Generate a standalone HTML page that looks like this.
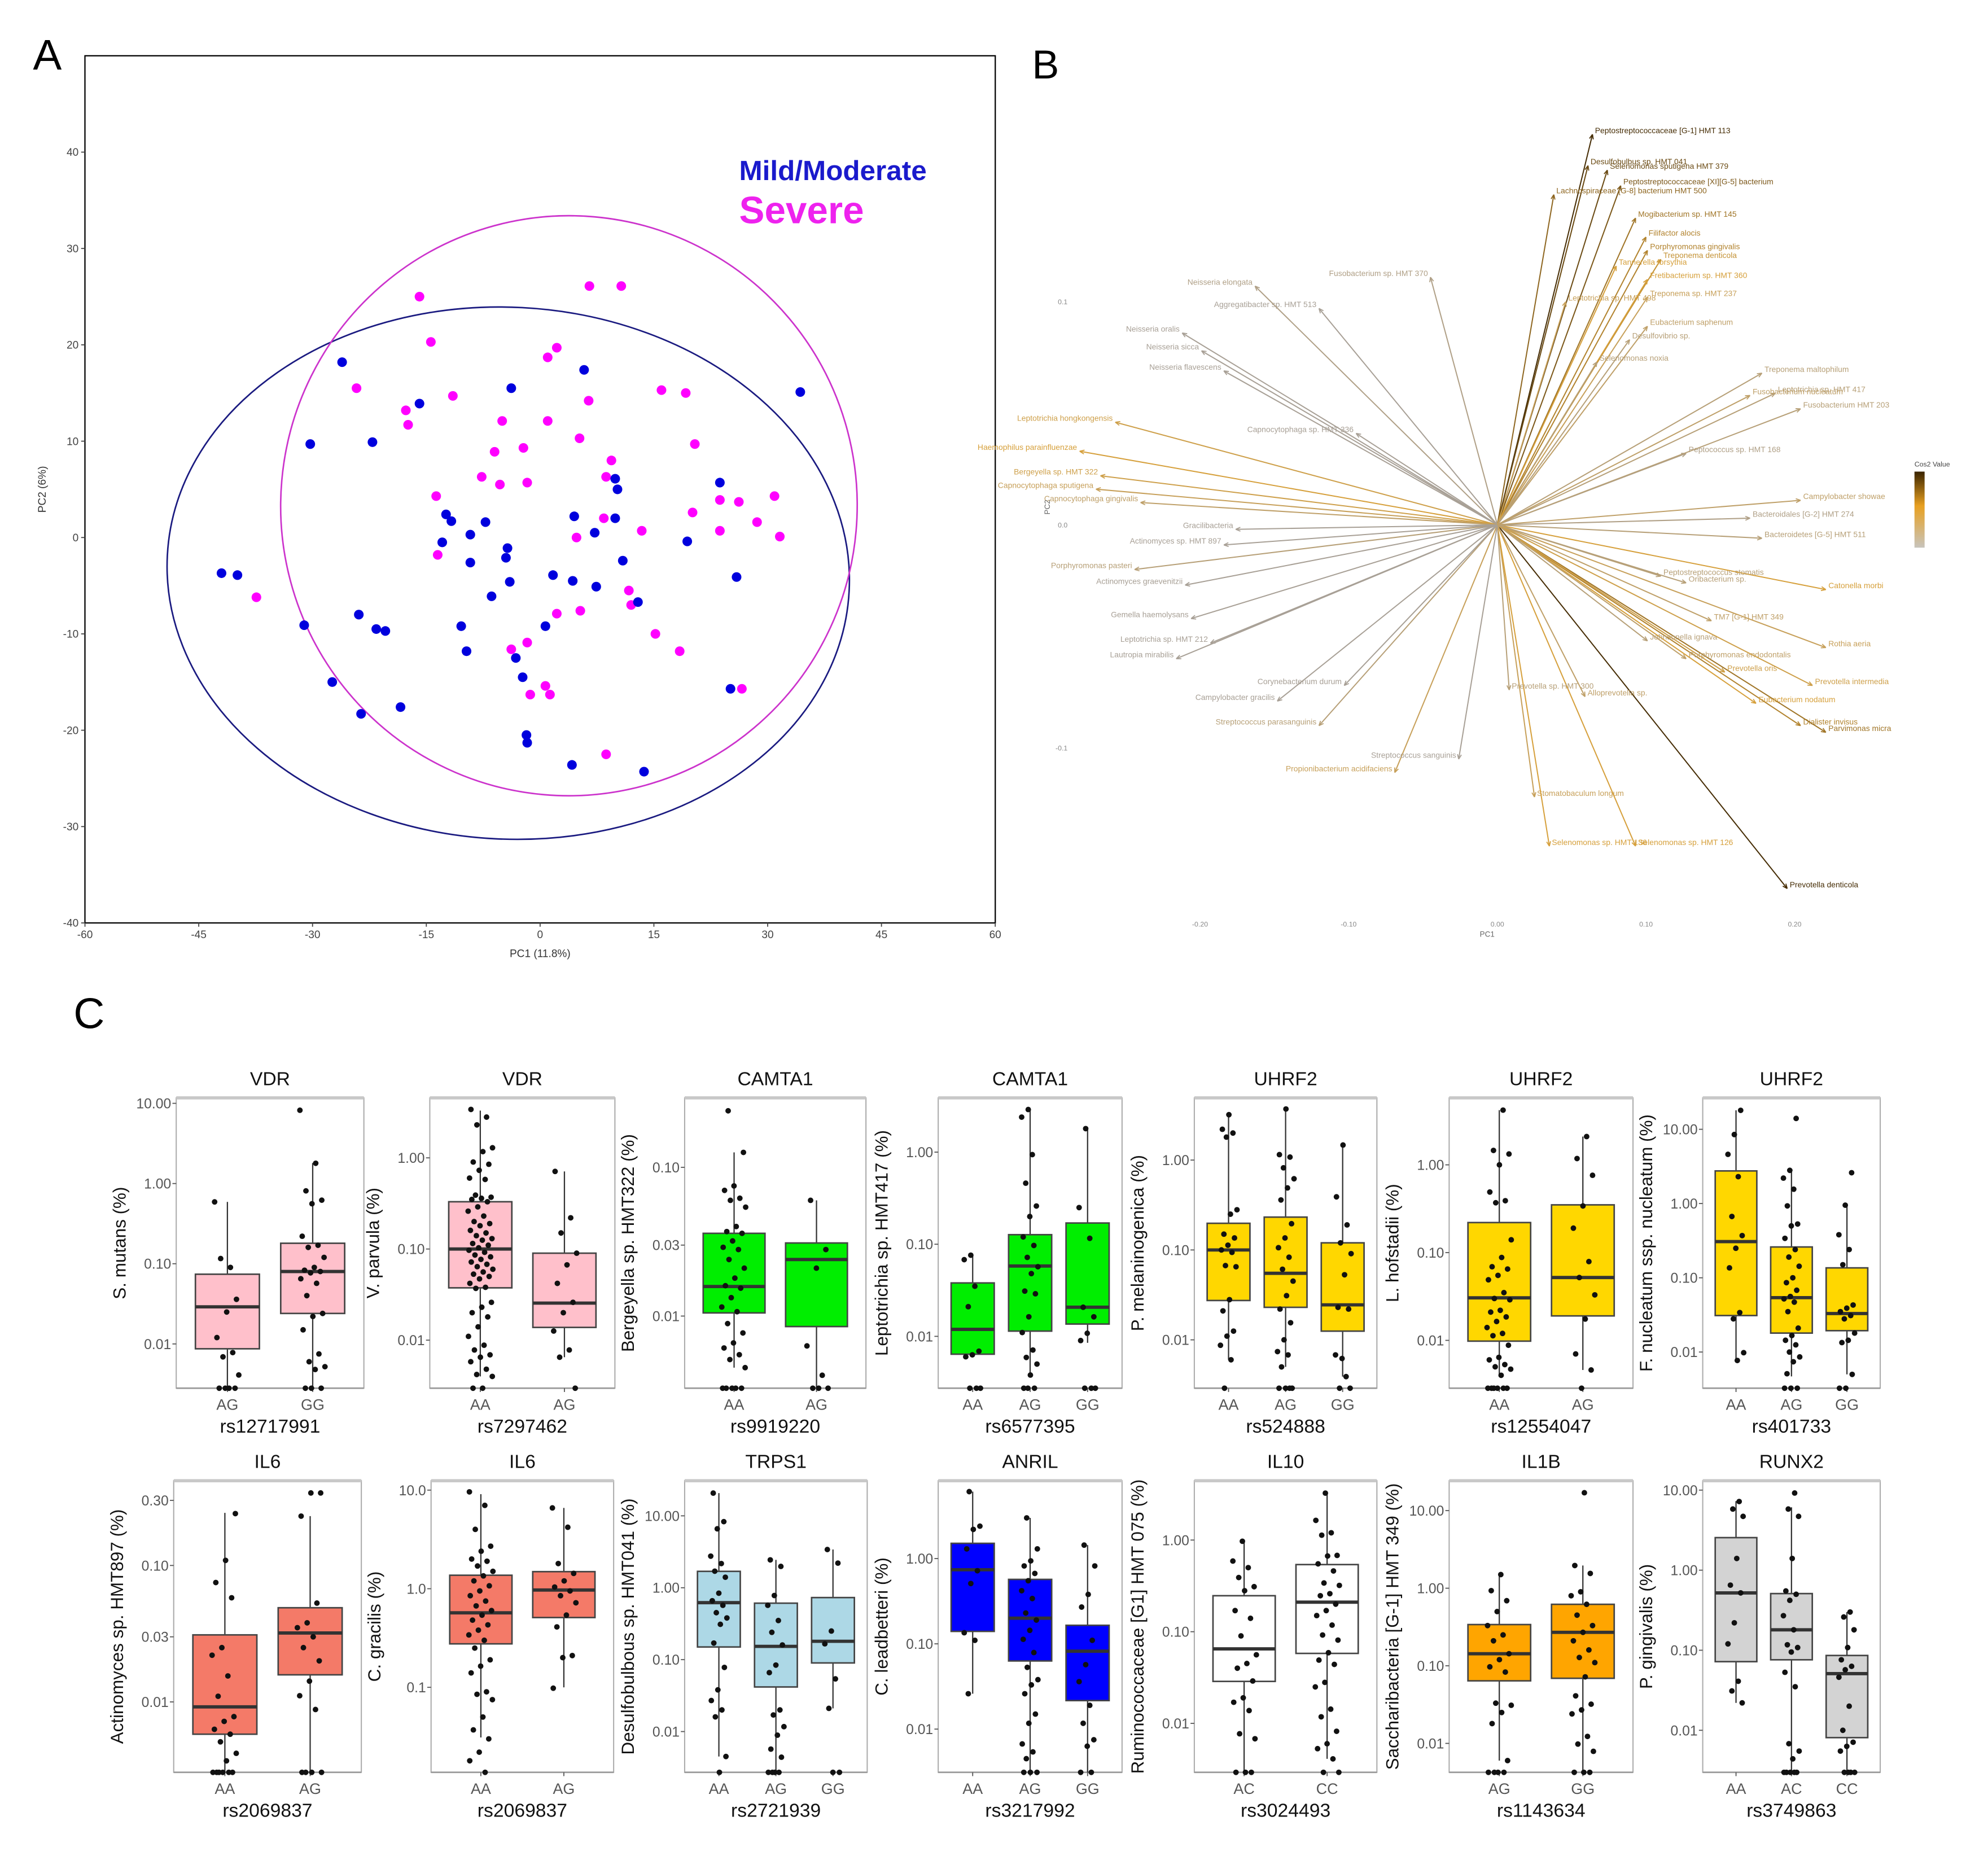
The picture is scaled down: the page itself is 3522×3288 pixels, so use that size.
<!DOCTYPE html>
<html><head><meta charset="utf-8"><style>
html,body{margin:0;padding:0;background:#fff;}
svg{display:block;font-family:"Liberation Sans",sans-serif;}
</style></head><body>
<svg id="fig" xmlns="http://www.w3.org/2000/svg" width="3522" height="3288" viewBox="0 0 1568 1464" preserveAspectRatio="none">
<rect x="0" y="0" width="1568" height="1464" fill="#fff"/>
<text x="26" y="55" font-size="34" fill="#000">A</text>
<text x="814" y="62" font-size="32" fill="#000">B</text>
<text x="58" y="811" font-size="34" fill="#000">C</text>
</svg>
<script>
// ---------- Panel A data ----------
const blueX=[34.3,-26.1,-30.3,-22.1,-3.8,5.8,-42.0,-39.9,-31.1,-27.4,-23.9,-21.6,-20.4,-23.6,-18.4,-15.9,-12.4,-12.9,-9.2,-9.2,-6.4,-4.5,-4.3,-4.0,-10.4,-9.7,-3.2,-2.3,-1.8,-1.7,0.7,1.7,4.3,4.5,7.2,9.9,10.2,9.9,10.9,12.9,19.4,23.7,25.9,25.1,4.2,13.7,7.4,-7.2,-11.7];
const blueY=[15.1,18.2,9.7,9.9,15.5,17.4,-3.7,-3.9,-9.1,-15.0,-8.0,-9.5,-9.7,-18.3,-17.6,13.9,2.4,-0.5,0.3,-2.6,-6.1,-2.1,-1.1,-4.6,-9.2,-11.8,-12.5,-14.5,-20.5,-21.3,-9.2,-3.9,-4.5,2.2,0.5,6.1,5.0,2.0,-2.4,-6.7,-0.4,5.7,-4.1,-15.7,-23.6,-24.3,-5.1,1.6,1.7];
const magX=[-15.9,6.5,10.7,-14.4,-24.2,-17.7,-17.4,-11.5,2.2,1.0,6.4,-5.0,1.0,-6.0,-2.2,5.2,9.4,8.7,16.0,19.2,20.4,-7.7,-5.3,-1.7,-13.7,-13.5,23.7,26.2,30.9,28.6,31.6,23.7,20.1,13.4,8.4,4.8,11.7,12.0,5.3,2.2,-1.7,-3.8,0.7,1.3,-1.3,15.2,18.4,26.6,8.7,-37.4];
const magY=[25.0,26.1,26.1,20.3,15.5,13.2,11.7,14.7,19.7,18.7,14.2,12.1,12.1,8.9,9.3,10.3,8.0,6.3,15.3,15.0,9.7,6.3,5.5,5.7,4.3,-1.8,3.9,3.7,4.3,1.6,0.1,0.7,2.6,0.7,2.0,0.0,-5.5,-7.0,-7.6,-7.9,-10.9,-11.6,-15.4,-16.3,-16.3,-10.0,-11.8,-15.7,-22.5,-6.2];
const aTicksX=[-60,-45,-30,-15,0,15,30,45,60];
const aTicksY=[-40,-30,-20,-10,0,10,20,30,40];
const blueEllipse=[-4.2,-3.7,45,27.6];
const magEllipse=[3.8,3.3,38,30.1];

// ---------- Panel B data ----------
const bLabels=["Peptostreptococcaceae [G-1] HMT 113","Desulfobulbus sp. HMT 041","Selenomonas sputigena HMT 379","Peptostreptococcaceae [XI][G-5] bacterium","Lachnospiraceae [G-8] bacterium HMT 500","Mogibacterium sp. HMT 145","Filifactor alocis","Porphyromonas gingivalis","Treponema denticola","Tannerella forsythia","Fretibacterium sp. HMT 360","Treponema sp. HMT 237","Fusobacterium sp. HMT 370","Aggregatibacter sp. HMT 513","Neisseria elongata","Neisseria oralis","Neisseria sicca","Neisseria flavescens","Leptotrichia hongkongensis","Capnocytophaga sp. HMT 336","Haemophilus parainfluenzae","Bergeyella sp. HMT 322","Capnocytophaga sputigena","Capnocytophaga gingivalis","Gracilibacteria","Porphyromonas pasteri","Actinomyces graevenitzii","Gemella haemolysans","Lautropia mirabilis","Leptotrichia sp. HMT 212","Campylobacter gracilis","Streptococcus parasanguinis","Propionibacterium acidifaciens","Stomatobaculum longum","Selenomonas sp. HMT 136","Selenomonas sp. HMT 126","Prevotella denticola","Prevotella sp. HMT 300","Alloprevotella sp.","Catonella morbi","Dialister invisus","Parvimonas micra","Eubacterium nodatum","Prevotella oris","Bacteroidetes [G-5] HMT 511","Bacteroidales [G-2] HMT 274","Peptococcus sp. HMT 168","Treponema maltophilum","Leptotrichia sp. HMT 417","Fusobacterium HMT 203","Eubacterium saphenum","Desulfovibrio sp.","Selenomonas noxia","Campylobacter showae","Oribacterium sp.","TM7 [G-1] HMT 349","Johnsonella ignava","Porphyromonas endodontalis","Streptococcus sanguinis","Corynebacterium durum","Actinomyces sp. HMT 897","Rothia aeria","Prevotella intermedia","Peptostreptococcus stomatis","Leptotrichia sp. HMT 498","Fusobacterium nucleatum"];
const bPC1=[0.064,0.061,0.074,0.083,0.038,0.093,0.1,0.101,0.11,0.08,0.101,0.101,-0.045,-0.12,-0.163,-0.212,-0.199,-0.184,-0.257,-0.095,-0.281,-0.267,-0.27,-0.24,-0.176,-0.244,-0.21,-0.206,-0.216,-0.193,-0.148,-0.12,-0.069,0.025,0.035,0.093,0.195,0.008,0.059,0.221,0.204,0.221,0.174,0.153,0.178,0.17,0.127,0.178,0.187,0.204,0.101,0.089,0.067,0.204,0.127,0.144,0.101,0.127,-0.026,-0.103,-0.184,0.221,0.212,0.11,0.046,0.17];
const bPC2=[0.175,0.161,0.159,0.152,0.148,0.1375,0.129,0.123,0.119,0.116,0.11,0.102,0.111,0.097,0.107,0.086,0.078,0.069,0.046,0.041,0.033,0.022,0.016,0.01,-0.002,-0.02,-0.027,-0.042,-0.06,-0.053,-0.079,-0.09,-0.111,-0.122,-0.144,-0.144,-0.163,-0.074,-0.077,-0.029,-0.09,-0.093,-0.08,-0.066,-0.006,0.003,0.032,0.068,0.059,0.052,0.089,0.083,0.073,0.011,-0.026,-0.043,-0.052,-0.06,-0.105,-0.072,-0.009,-0.055,-0.072,-0.023,0.1,0.058];
const bCos2=[1.0,0.9,0.9,0.85,0.8,0.75,0.7,0.7,0.65,0.6,0.6,0.5,0.35,0.3,0.35,0.3,0.3,0.3,0.55,0.3,0.6,0.55,0.5,0.45,0.3,0.4,0.3,0.3,0.3,0.3,0.3,0.4,0.5,0.5,0.6,0.6,1.0,0.4,0.45,0.6,0.7,0.75,0.6,0.55,0.4,0.35,0.35,0.4,0.4,0.4,0.45,0.4,0.4,0.45,0.4,0.45,0.4,0.45,0.3,0.3,0.3,0.5,0.55,0.4,0.5,0.45];
const bTicksX=[-0.2,-0.1,0,0.1,0.2];
const bTickLabelsX=["-0.20","-0.10","0.00","0.10","0.20"];
const bTicksY=[0.1,0,-0.1];
const bTickLabelsY=["0.1","0.0","-0.1"];

// ---------- Panel C data ----------
const p1Groups=["AG","GG"];
const p1Stats=[[0,0.0087,0.029,0.074,0.59],[0,0.024,0.08,0.18,1.8]];
const p1Pts=[[0.59,0.09,0.116,0.036,0.025,0.012,0.0078,0.0069,0.0041,0,0,0,0],[8.2,1.79,0.81,0.62,0.56,0.22,0.17,0.16,0.12,0.09,0.083,0.08,0.077,0.065,0.057,0.04,0.024,0.022,0.015,0.0075,0.006,0.0052,0.0048,0,0,0]];
const p1Ticks=[10,1,0.1,0.01];const p1TickLabels=["10.00","1.00","0.10","0.01"];

const p2Groups=["AA","AG"];
const p2Stats=[[0.004,0.0375,0.1,0.33,3.3],[0.0065,0.0138,0.0255,0.09,0.71]];
const p2Pts=[[3.4,2.8,2.3,1.29,1.17,0.9,0.85,0.73,0.6,0.58,0.39,0.37,0.36,0.35,0.33,0.29,0.26,0.23,0.2,0.19,0.18,0.16,0.15,0.14,0.13,0.125,0.115,0.11,0.103,0.097,0.092,0.086,0.082,0.077,0.072,0.068,0.064,0.06,0.056,0.053,0.05,0.047,0.042,0.038,0.037,0.026,0.023,0.02,0.018,0.014,0.011,0.0088,0.0078,0.0069,0.0065,0.0058,0.0048,0.0042,0.004,0,0],[0.71,0.22,0.15,0.09,0.067,0.042,0.026,0.02,0.0126,0.0078,0.0065,0]];
const p2Ticks=[1,0.1,0.01];const p2TickLabels=["1.00","0.10","0.01"];

const p3Groups=["AA","AG"];
const p3Stats=[[0.0045,0.0105,0.0158,0.036,0.126],[0,0.0085,0.024,0.031,0.06]];
const p3Pts=[[0.24,0.126,0.075,0.07,0.062,0.06,0.054,0.04,0.037,0.036,0.032,0.029,0.028,0.024,0.021,0.018,0.016,0.0154,0.0133,0.0115,0.0107,0.0089,0.0077,0.0066,0.0061,0.0055,0.0051,0.0045,0,0,0,0,0],[0.06,0.028,0.021,0.0063,0.004,0,0,0]];
const p3Ticks=[0.1,0.03,0.01];const p3TickLabels=["0.10","0.03","0.01"];

const p4Groups=["AA","AG","GG"];
const p4Stats=[[0.006,0.0064,0.0119,0.038,0.076],[0.0037,0.0114,0.058,0.127,2.9],[0.0085,0.0136,0.0207,0.17,1.74]];
const p4Pts=[[0.076,0.068,0.035,0.021,0.0069,0.0063,0.006,0,0,0],[2.9,2.4,0.94,0.46,0.26,0.2,0.12,0.097,0.072,0.057,0.048,0.031,0.029,0.0163,0.011,0.0071,0.0059,0.005,0.0038,0,0,0],[1.8,0.25,0.116,0.0207,0.0163,0.0108,0.009,0,0,0]];
const p4Ticks=[1,0.1,0.01];const p4TickLabels=["1.00","0.10","0.01"];

const p5Groups=["AA","AG","GG"];
const p5Stats=[[0.006,0.0274,0.1,0.198,3.2],[0.005,0.023,0.055,0.232,3.7],[0.0039,0.0125,0.0245,0.12,1.45]];
const p5Pts=[[3.2,2.2,2.0,1.8,0.28,0.25,0.15,0.136,0.113,0.1,0.094,0.067,0.065,0.028,0.021,0.0125,0.011,0.0087,0.006,0],[3.7,1.15,1.08,0.82,0.62,0.49,0.36,0.196,0.136,0.106,0.083,0.061,0.045,0.031,0.022,0.0155,0.01,0.0074,0.0068,0.005,0,0,0,0],[1.47,0.39,0.19,0.12,0.091,0.053,0.023,0.022,0.0062,0.0068,0.0039,0,0]];
const p5Ticks=[1,0.1,0.01];const p5TickLabels=["1.00","0.10","0.01"];

const p6Groups=["AA","AG"];
const p6Stats=[[0.0039,0.0098,0.0305,0.22,4.2],[0.0046,0.019,0.052,0.35,2.1]];
const p6Pts=[[4.2,1.46,1.33,1.0,0.49,0.39,0.37,0.14,0.088,0.069,0.065,0.055,0.049,0.035,0.03,0.029,0.022,0.021,0.0185,0.0164,0.014,0.012,0.0113,0.0088,0.0064,0.006,0.0053,0.005,0.0047,0.004,0,0,0,0,0,0],[2.1,1.18,0.76,0.34,0.19,0.079,0.052,0.033,0.0175,0.007,0.0046,0]];
const p6Ticks=[1,0.1,0.01];const p6TickLabels=["1.00","0.10","0.01"];

const p7Groups=["AA","AG","GG"];
const p7Stats=[[0.0077,0.031,0.307,2.75,18],[0.0047,0.018,0.054,0.26,2.9],[0.005,0.0194,0.033,0.136,1.0]];
const p7Pts=[[18,8.5,4.6,2.3,0.67,0.37,0.25,0.136,0.034,0.028,0.0098,0.0077],[14,2.8,2.2,1.56,0.93,0.53,0.5,0.34,0.24,0.19,0.143,0.1,0.086,0.068,0.056,0.052,0.047,0.035,0.021,0.0167,0.0144,0.0125,0.01,0.0086,0.0074,0.0051,0,0,0],[2.6,0.95,0.38,0.24,0.15,0.043,0.039,0.035,0.031,0.028,0.018,0.0144,0.0134,0.005,0,0]];
const p7Ticks=[10,1,0.1,0.01];const p7TickLabels=["10.00","1.00","0.10","0.01"];

const p8Groups=["AA","AG"];
const p8Stats=[[0,0.0058,0.0092,0.031,0.243],[0,0.0158,0.032,0.049,0.23]];
const p8Pts=[[0.24,0.109,0.075,0.058,0.025,0.022,0.0155,0.011,0.0078,0.0072,0.0063,0.0058,0.0051,0.0042,0.0037,0,0,0,0,0,0],[0.34,0.34,0.23,0.053,0.038,0.035,0.03,0.025,0.02,0.0142,0.0111,0.0088,0,0,0,0]];
const p8Ticks=[0.3,0.1,0.03,0.01];const p8TickLabels=["0.30","0.10","0.03","0.01"];

const p9Groups=["AA","AG"];
const p9Stats=[[0.031,0.276,0.57,1.37,9.1],[0.1,0.51,0.97,1.49,6.6]];
const p9Pts=[[9.6,7,4,2.7,2.4,2.0,1.9,1.7,1.5,1.35,1.2,1.07,0.95,0.85,0.75,0.67,0.6,0.54,0.48,0.43,0.38,0.34,0.3,0.25,0.19,0.164,0.14,0.09,0.085,0.075,0.05,0.037,0.03,0.022,0.018,0],[6.6,4.2,1.8,1.43,1.2,1.04,0.95,0.85,0.72,0.54,0.41,0.21,0.2,0.098]];
const p9Ticks=[10,1,0.1];const p9TickLabels=["10.0","1.0","0.1"];

const p10Groups=["AA","AG","GG"];
const p10Stats=[[0.0045,0.15,0.62,1.69,20.7],[0,0.0417,0.153,0.61,2.44],[0.021,0.09,0.18,0.73,3.4]];
const p10Pts=[[20.7,8.3,6.6,2.75,2.17,1.7,1.4,0.84,0.66,0.57,0.45,0.38,0.31,0.17,0.078,0.038,0.027,0.02,0.016,0.0045,0],[2.44,1.98,0.78,0.57,0.35,0.24,0.16,0.084,0.066,0.02,0.017,0.0117,0.0089,0.0057,0.0044,0,0,0,0],[3.4,2.2,0.25,0.166,0.054,0.021,0,0]];
const p10Ticks=[10,1,0.1,0.01];const p10TickLabels=["10.00","1.00","0.10","0.01"];

const p11Groups=["AA","AG","GG"];
const p11Stats=[[0.026,0.14,0.74,1.51,6.1],[0,0.063,0.2,0.57,3.0],[0,0.0216,0.082,0.165,1.44]];
const p11Pts=[[6.1,2.4,2.2,1.3,0.72,0.51,0.135,0.11,0.026],[3.0,1.3,0.94,0.82,0.67,0.55,0.42,0.34,0.23,0.19,0.144,0.113,0.079,0.053,0.038,0.033,0.026,0.015,0.0117,0.0067,0.0054,0.0045,0,0,0],[1.44,0.82,0.38,0.27,0.11,0.057,0.036,0.019,0.0117,0.0075,0.0063,0,0]];
const p11Ticks=[1,0.1,0.01];const p11TickLabels=["1.00","0.10","0.01"];

const p12Groups=["AC","CC"];
const p12Stats=[[0,0.0287,0.065,0.247,0.97],[0.0041,0.058,0.21,0.54,3.25]];
const p12Pts=[[0.97,0.59,0.5,0.39,0.31,0.28,0.17,0.14,0.09,0.056,0.045,0.04,0.029,0.019,0.017,0.0138,0.0077,0.0068,0,0,0],[3.25,1.64,1.2,1.13,0.68,0.67,0.55,0.46,0.34,0.32,0.26,0.247,0.2,0.17,0.15,0.118,0.092,0.081,0.059,0.049,0.044,0.028,0.025,0.0143,0.0118,0.0082,0.006,0.0053,0.0041,0,0]];
const p12Ticks=[1,0.1,0.01];const p12TickLabels=["1.00","0.10","0.01"];

const p13Groups=["AG","GG"];
const p13Stats=[[0.006,0.064,0.143,0.34,1.5],[0,0.069,0.27,0.62,1.96]];
const p13Pts=[[1.5,0.93,0.69,0.5,0.33,0.25,0.21,0.143,0.12,0.097,0.083,0.033,0.031,0.025,0.018,0.006,0,0,0,0],[17,1.96,1.55,0.9,0.8,0.62,0.45,0.33,0.27,0.21,0.16,0.128,0.11,0.072,0.041,0.032,0.027,0.024,0.0123,0.0098,0.0079,0,0,0]];
const p13Ticks=[10,1,0.1,0.01];const p13TickLabels=["10.00","1.00","0.10","0.01"];

const p14Groups=["AA","AC","CC"];
const p14Stats=[[0.022,0.072,0.52,2.55,7.3],[0,0.076,0.18,0.51,6.1],[0,0.0081,0.051,0.086,0.3]];
const p14Pts=[[7.2,5.8,4.7,1.4,0.65,0.52,0.22,0.12,0.041,0.031,0.022],[9.2,5.8,4.7,1.4,0.55,0.5,0.42,0.27,0.18,0.117,0.108,0.095,0.053,0.035,0.0068,0.0055,0.0044,0,0,0,0,0],[0.3,0.26,0.18,0.108,0.076,0.063,0.057,0.046,0.02,0.01,0.0071,0.0063,0.0055,0,0,0,0]];
const p14Ticks=[10,1,0.1,0.01];const p14TickLabels=["10.00","1.00","0.10","0.01"];

// ---------- rendering ----------
const NS='http://www.w3.org/2000/svg';
const svg=document.getElementById('fig');
function mk(tag,attrs,parent){const e=document.createElementNS(NS,tag);for(const k in attrs)e.setAttribute(k,attrs[k]);(parent||svg).appendChild(e);return e;}
function tx(str,x,y,size,attrs,parent){const e=mk('text',Object.assign({x:x,y:y,'font-size':size},attrs||{}),parent);e.textContent=str;return e;}

// Panel A
(function(){
  const g=mk('g',{});
  
  
  const sx=v=>426+v*5.983, sy=v=>424-v*7.6;
  const fr=mk('rect',{x:67,y:44,width:718,height:684,fill:'none',stroke:'#000','stroke-width':1},g);
  
  
  aTicksX.forEach(v=>{
    const l=mk('line',{x1:sx(v),x2:sx(v),y1:728,y2:731,stroke:'#444','stroke-width':0.8},g);
    
    
    const t=tx(String(v),sx(v),740,8.5,{'text-anchor':'middle',fill:'#444'},g);
    
    
  });
  aTicksY.forEach(v=>{
    const l=mk('line',{x1:64,x2:67,y1:sy(v),y2:sy(v),stroke:'#444','stroke-width':0.8},g);
    
    
    const t=tx(String(v),62,sy(v)+3,8.5,{'text-anchor':'end',fill:'#444'},g);
    
    
  });
  const xt=tx('PC1 (11.8%)',426,755,8.5,{'text-anchor':'middle',fill:'#333'},g);
  
  
  const yt=tx('PC2 (6%)',36,386,8.5,{'text-anchor':'middle',fill:'#333',transform:'rotate(-90 36 386)'},g);
  
  
  const e1=mk('ellipse',{cx:sx(blueEllipse[0]),cy:sy(blueEllipse[1]),rx:blueEllipse[2]*5.983,ry:blueEllipse[3]*7.6,fill:'none',stroke:'#1a1a80','stroke-width':1.2,transform:'rotate(3 '+sx(blueEllipse[0])+' '+sy(blueEllipse[1])+')'},g);
  
  
  const e2=mk('ellipse',{cx:sx(magEllipse[0]),cy:sy(magEllipse[1]),rx:magEllipse[2]*5.983,ry:magEllipse[3]*7.6,fill:'none',stroke:'#cc33cc','stroke-width':1.2,transform:'rotate(5 '+sx(magEllipse[0])+' '+sy(magEllipse[1])+')'},g);
  
  
  magX.forEach((v,i)=>{
    const c=mk('circle',{cx:sx(v),cy:sy(magY[i]),r:3.8,fill:'#ff00ff'},g);
    
    
  });
  blueX.forEach((v,i)=>{
    const c=mk('circle',{cx:sx(v),cy:sy(blueY[i]),r:3.8,fill:'#0000dd'},g);
    
    
  });
  const l1=tx('Mild/Moderate',583,142,22,{fill:'#1a1acc','font-weight':'bold'},g);
  
  
  const l2=tx('Severe',583,176,30,{fill:'#ee22ee','font-weight':'bold'},g);
  
  
})();

// Panel B
function cosColor(c){
  const stops=[[0.3,[168,160,150]],[0.6,[214,160,60]],[1.0,[70,45,5]]];
  if(c<=stops[0][0])return 'rgb('+stops[0][1].join(',')+')';
  for(let i=0;i<stops.length-1;i++){const a=stops[i],b=stops[i+1];if(c<=b[0]){const t=(c-a[0])/(b[0]-a[0]);return 'rgb('+a[1].map((v,k)=>Math.round(v+(b[1][k]-v)*t)).join(',')+')';}}
  return 'rgb(70,45,5)';
}
(function(){
  const g=mk('g',{});
  
  
  const sx=v=>1181+v*1172.5, sy=v=>414-v*1760;
  bPC1.forEach((v,i)=>{
    const col=cosColor(bCos2[i]);
    const x=sx(v),y=sy(bPC2[i]);
    const l=mk('line',{x1:sx(0),y1:sy(0),x2:x,y2:y,stroke:col,'stroke-width':0.9},g);
    
    
    const ang=Math.atan2(y-sy(0),x-sx(0));
    const h=mk('path',{d:'M'+x+' '+y+' L'+(x-4*Math.cos(ang-0.4))+' '+(y-4*Math.sin(ang-0.4))+' M'+x+' '+y+' L'+(x-4*Math.cos(ang+0.4))+' '+(y-4*Math.sin(ang+0.4)),stroke:col,'stroke-width':0.8,fill:'none'},g);
    
    
    const t=tx(bLabels[i],x+(v<0?-2:2),y-1,6.2,{fill:col,'text-anchor':v<0?'end':'start'},g);
    
    
  });
  bTicksX.forEach((v,i)=>{
    const t=tx(bTickLabelsX[i],sx(v),731,5.5,{'text-anchor':'middle',fill:'#888'},g);
    
    
  });
  bTicksY.forEach((v,i)=>{
    const t=tx(bTickLabelsY[i],842,sy(v)+2,5.5,{'text-anchor':'end',fill:'#888'},g);
    
    
  });
  const xt=tx('PC1',1173,739,6,{'text-anchor':'middle',fill:'#666'},g);
  
  
  const yt=tx('PC2',828,400,6,{'text-anchor':'middle',fill:'#666',transform:'rotate(-90 828 400)'},g);
  
  
  const defs=mk('defs',{},g);
  const lg=mk('linearGradient',{id:'cosgrad',x1:0,y1:0,x2:0,y2:1},defs);
  mk('stop',{offset:'0','stop-color':'#3a2400'},lg);
  mk('stop',{offset:'0.45','stop-color':'#e8a020'},lg);
  mk('stop',{offset:'1','stop-color':'#c8c4bc'},lg);
  const cb=mk('rect',{x:1510,y:372,width:8,height:60,fill:'url(#cosgrad)'},g);
  
  
  const ct=tx('Cos2 Value',1510,368,5.5,{fill:'#444'},g);
  
  
})();

// Panel C
const panels=[
 {title:'VDR',snp:'rs12717991',ylab:'S. mutans (%)',groups:p1Groups,stats:p1Stats,pts:p1Pts,ticks:p1Ticks,tl:p1TickLabels,x0:139,x1:287,row:0,lt:1.068,lb:-2.552,col:'#ffc0cb'},
 {title:'VDR',snp:'rs7297462',ylab:'V. parvula (%)',groups:p2Groups,stats:p2Stats,pts:p2Pts,ticks:p2Ticks,tl:p2TickLabels,x0:339,x1:485,row:0,lt:0.658,lb:-2.527,col:'#ffc0cb'},
 {title:'CAMTA1',snp:'rs9919220',ylab:'Bergeyella sp. HMT322 (%)',groups:p3Groups,stats:p3Stats,pts:p3Pts,ticks:p3Ticks,tl:p3TickLabels,x0:540,x1:683,row:0,lt:-0.533,lb:-2.485,col:'#00ee00'},
 {title:'CAMTA1',snp:'rs6577395',ylab:'Leptotrichia sp. HMT417 (%)',groups:p4Groups,stats:p4Stats,pts:p4Pts,ticks:p4Ticks,tl:p4TickLabels,x0:740,x1:885,row:0,lt:0.589,lb:-2.563,col:'#00ee00'},
 {title:'UHRF2',snp:'rs524888',ylab:'P. melaninogenica (%)',groups:p5Groups,stats:p5Stats,pts:p5Pts,ticks:p5Ticks,tl:p5TickLabels,x0:942,x1:1086,row:0,lt:0.692,lb:-2.538,col:'#ffd700'},
 {title:'UHRF2',snp:'rs12554047',ylab:'L. hofstadii (%)',groups:p6Groups,stats:p6Stats,pts:p6Pts,ticks:p6Ticks,tl:p6TickLabels,x0:1143,x1:1288,row:0,lt:0.763,lb:-2.545,col:'#ffd700'},
 {title:'UHRF2',snp:'rs401733',ylab:'F. nucleatum ssp. nucleatum (%)',groups:p7Groups,stats:p7Stats,pts:p7Pts,ticks:p7Ticks,tl:p7TickLabels,x0:1343,x1:1483,row:0,lt:1.423,lb:-2.487,col:'#ffd700'},
 {title:'IL6',snp:'rs2069837',ylab:'Actinomyces sp. HMT897 (%)',groups:p8Groups,stats:p8Stats,pts:p8Pts,ticks:p8Ticks,tl:p8TickLabels,x0:137,x1:285,row:1,lt:-0.379,lb:-2.516,col:'#f47a68'},
 {title:'IL6',snp:'rs2069837',ylab:'C. gracilis (%)',groups:p9Groups,stats:p9Stats,pts:p9Pts,ticks:p9Ticks,tl:p9TickLabels,x0:340,x1:484,row:1,lt:1.095,lb:-1.862,col:'#f47a68'},
 {title:'TRPS1',snp:'rs2721939',ylab:'Desulfobulbous sp. HMT041 (%)',groups:p10Groups,stats:p10Stats,pts:p10Pts,ticks:p10Ticks,tl:p10TickLabels,x0:540,x1:684,row:1,lt:1.488,lb:-2.567,col:'#add8e6'},
 {title:'ANRIL',snp:'rs3217992',ylab:'C. leadbetteri (%)',groups:p11Groups,stats:p11Stats,pts:p11Pts,ticks:p11Ticks,tl:p11TickLabels,x0:740,x1:885,row:1,lt:0.913,lb:-2.507,col:'#0000ff'},
 {title:'IL10',snp:'rs3024493',ylab:'Ruminococcaceae [G1] HMT 075 (%)',groups:p12Groups,stats:p12Stats,pts:p12Pts,ticks:p12Ticks,tl:p12TickLabels,x0:942,x1:1086,row:1,lt:0.647,lb:-2.534,col:'#ffffff'},
 {title:'IL1B',snp:'rs1143634',ylab:'Saccharibacteria [G-1] HMT 349 (%)',groups:p13Groups,stats:p13Stats,pts:p13Pts,ticks:p13Ticks,tl:p13TickLabels,x0:1143,x1:1288,row:1,lt:1.385,lb:-2.373,col:'#ffa500'},
 {title:'RUNX2',snp:'rs3749863',ylab:'P. gingivalis  (%)',groups:p14Groups,stats:p14Stats,pts:p14Pts,ticks:p14Ticks,tl:p14TickLabels,x0:1343,x1:1483,row:1,lt:1.117,lb:-2.525,col:'#d3d3d3'}
];
const rowY=[[866,1095],[1168,1398]];
panels.forEach((p,pi)=>{
  const g=mk('g',{});
  
  
  const y0=rowY[p.row][0],y1=rowY[p.row][1];
  const sy=v=>v<=0?y1:y0+(p.lt-Math.log10(v))/(p.lt-p.lb)*(y1-y0);
  const n=p.groups.length,W=p.x1-p.x0,unit=W/(n+0.2);
  const sx=i=>p.x0+(i+0.6)*unit;
  const fr=mk('rect',{x:p.x0,y:y0,width:W,height:y1-y0,fill:'#fff',stroke:'#aaa','stroke-width':0.9},g);
  
  
  const top=mk('line',{x1:p.x0,x2:p.x1,y1:y0,y2:y0,stroke:'#c8c8c8','stroke-width':2.5},g);
  
  
  const bot=mk('line',{x1:p.x0,x2:p.x1,y1:y1,y2:y1,stroke:'#999','stroke-width':1.2},g);
  
  
  p.ticks.forEach((v,i)=>{
    const tk=mk('line',{x1:p.x0-3,x2:p.x0,y1:sy(v),y2:sy(v),stroke:'#555','stroke-width':0.8},g);
    
    
    const t=tx(p.tl[i],p.x0-4,sy(v)+4,11,{'text-anchor':'end',fill:'#555'},g);
    
    
  });
  const tt=tx(p.title,(p.x0+p.x1)/2,y0-10,15,{'text-anchor':'middle',fill:'#111'},g);
  
  
  const st=tx(p.snp,(p.x0+p.x1)/2,y1+35,15,{'text-anchor':'middle',fill:'#111'},g);
  
  
  const yx=p.x0-40,yc=(y0+y1)/2;
  const yt=tx(p.ylab,yx,yc,14,{'text-anchor':'middle',fill:'#111',transform:'rotate(-90 '+yx+' '+yc+')'},g);
  
  
  p.groups.forEach((gr,i)=>{
    const cx=sx(i),bw=0.75*unit,s=p.stats[i];
    const lab=tx(gr,cx,y1+17,12,{'text-anchor':'middle',fill:'#555'},g);
    
    
    const tk=mk('line',{x1:cx,x2:cx,y1:y1,y2:y1+3,stroke:'#555','stroke-width':0.8},g);
    
    
    const wh=mk('line',{x1:cx,x2:cx,y1:sy(s[0]),y2:sy(s[4]),stroke:'#333','stroke-width':1},g);
    
    
    const bx=mk('rect',{x:cx-bw/2,y:sy(s[3]),width:bw,height:sy(s[1])-sy(s[3]),fill:p.col,stroke:'#444','stroke-width':1.2},g);
    
    
    const md=mk('line',{x1:cx-bw/2,x2:cx+bw/2,y1:sy(s[2]),y2:sy(s[2]),stroke:'#333','stroke-width':2.6},g);
    
    
    p.pts[i].forEach((v,k)=>{
      const off=(((k*0.618034+pi*0.13)%1)-0.5)*0.3*unit;
      const c=mk('circle',{cx:cx+off,cy:sy(v),r:2.2,fill:'#111'},g);
      
      
    });
  });
});
</script>
</body></html>
